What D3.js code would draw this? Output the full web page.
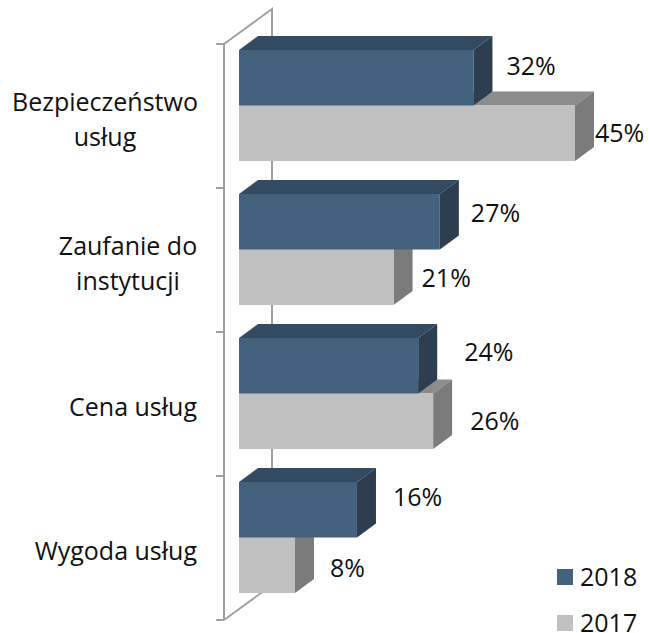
<!DOCTYPE html>
<html lang="en">

<head>
    <meta charset="UTF-8">
    <title>Chart</title>
    <script src="https://d3js.org/d3.v7.min.js"></script>
    <style>
        body { margin: 0; background: #fff; }
        text { font-family: "Open Sans", sans-serif; fill: #111; }
    </style>
</head>

<body>

    <svg id="chart"></svg>

    <script>
        const categories = ["Bezpieczeństwo usług", "Zaufanie do instytucji", "Cena usług", "Wygoda usług"];
        const series = ["2018", "2017"];
        const values2018 = [31.4, 26.9, 24, 15.8];
        const values2017 = [45, 20.7, 26, 7.5];
        const labels2018 = ["32%", "27%", "24%", "16%"];
        const labels2017 = ["45%", "21%", "26%", "8%"];

        const width = 650, height = 633;
        const depthX = 19, depthY = 14;
        const fontSize = 25;

        // labels were moved by hand in the original, so each one has its own gap
        const gap2018 = [14, 12, 27, 17];
        const gap2017 = [1, 9, 18, 16];
        const nudgeY = { 2018: [-2, 1, -4, -3], 2017: [1, 2, 1, 4] };

        const colors = {
            2018: { front: "#44627e", top: "#344a60", side: "#2c3e4f" },
            2017: { front: "#c0c0c0", top: "#8c8c8c", side: "#7b7b7b" }
        };

        const x_scale = d3.scaleLinear().domain([0, 45]).range([239, 575]);
        const y_scale = d3.scaleBand().domain(categories).range([44, 620]);
        const y_inner = d3.scaleBand().domain(series).range([6, 117]);

        const svg = d3.select("#chart")
            .attr("width", width)
            .attr("height", height)
            .style("display", "block");

        // walls of the 3d box
        const wall = svg.append("g")
            .attr("fill", "none")
            .attr("stroke", "#a0a0a0")
            .attr("stroke-width", 2);
        const [axisTop, axisBottom] = y_scale.range();
        const axisX = 224, backX = 272;
        wall.append("path").attr("d", `M${axisX},${axisBottom}V${axisTop}L${backX},${axisTop - 35}V${axisBottom - 35}`);
        wall.append("path").attr("d", `M${axisX},${axisBottom}L${backX},${axisBottom - 35}`);
        wall.selectAll(".tick")
            .data(categories.map((c) => y_scale(c)).concat([axisBottom]))
            .join("line")
            .attr("x1", axisX - 8)
            .attr("x2", axisX)
            .attr("y1", (d) => d)
            .attr("y2", (d) => d);

        // the 2017 bar goes first, 2018 overlaps its top face
        function drawBars(name, values) {
            const c = colors[name];
            const g = svg.append("g");
            categories.forEach((cat, i) => {
                const x0 = x_scale(0), x1 = x_scale(values[i]);
                const y0 = y_scale(cat) + y_inner(name);
                const y1 = y0 + y_inner.bandwidth();
                g.append("path").attr("fill", c.top)
                    .attr("d", `M${x0},${y0}l${depthX},${-depthY}H${x1 + depthX}l${-depthX},${depthY}Z`);
                g.append("path").attr("fill", c.side)
                    .attr("d", `M${x1},${y0}l${depthX},${-depthY}V${y1 - depthY}l${-depthX},${depthY}Z`);
                g.append("rect").attr("fill", c.front)
                    .attr("x", x0).attr("y", y0)
                    .attr("width", x1 - x0).attr("height", y1 - y0);
            });
        }
        drawBars("2017", values2017);
        drawBars("2018", values2018);

        function drawLabels(name, values, labels, gaps) {
            svg.append("g").selectAll("text")
                .data(labels)
                .join("text")
                .attr("font-size", fontSize)
                .attr("x", (d, i) => x_scale(values[i]) + depthX + gaps[i])
                .attr("y", (d, i) => y_scale(categories[i]) + y_inner(name) + y_inner.bandwidth() / 2 + nudgeY[name][i])
                .attr("dy", name === "2018" ? "-0.05em" : "0.3em")
                .text((d) => d);
        }
        drawLabels("2018", values2018, labels2018, gap2018);
        drawLabels("2017", values2017, labels2017, gap2017);

        // category labels, wrapped as in the original
        const catLines = [["Bezpieczeństwo", "usług"], ["Zaufanie do", "instytucji"], ["Cena usług"], ["Wygoda usług"]];
        categories.forEach((cat, i) => {
            const mid = y_scale(cat) + y_scale.bandwidth() / 2 + 12;
            const lines = catLines[i];
            svg.append("text")
                .attr("text-anchor", lines.length > 1 ? "middle" : "end")
                .attr("font-size", fontSize)
                .selectAll("tspan")
                .data(lines)
                .join("tspan")
                .attr("x", lines.length > 1 ? (i === 0 ? 105 : 128) : 197)
                .attr("y", (d, j) => mid + (j - (lines.length - 1) / 2) * 35)
                .text((d) => d);
        });

        // legend
        const legend = svg.append("g").selectAll("g")
            .data(series)
            .join("g")
            .attr("transform", (d, i) => `translate(557,${569 + i * 46})`);
        legend.append("rect")
            .attr("width", 16).attr("height", 16)
            .attr("fill", (d) => colors[d].front);
        legend.append("text")
            .attr("x", 23).attr("y", 17)
            .attr("font-size", fontSize)
            .text((d) => d);
    </script>
</body>

</html>
